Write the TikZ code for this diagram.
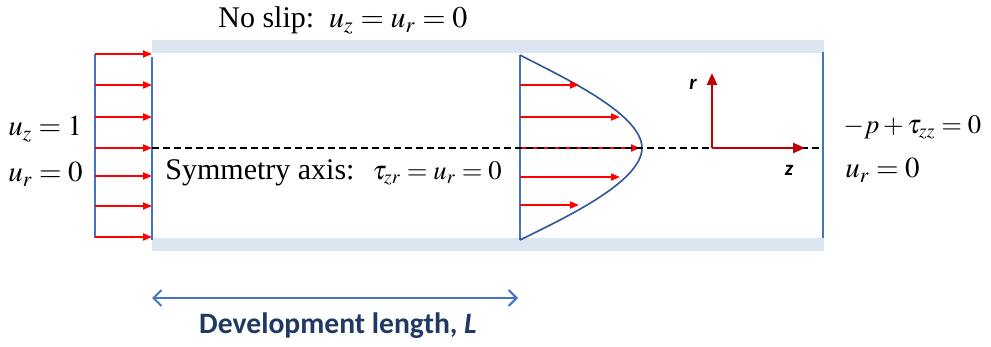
\documentclass[tikz,border=0pt]{standalone}
\usepackage{mathptmx}
\usepackage[no-math]{fontspec}
\setmainfont{Liberation Serif}
\newfontfamily\calibri{Carlito}
\usepackage{tikz}
\usetikzlibrary{arrows.meta,calc}
\definecolor{wallfill}{HTML}{DCE6F2}
\definecolor{edgeblue}{HTML}{4472C4}
\definecolor{profblue}{HTML}{2F5597}
\definecolor{velred}{HTML}{FF0000}
\definecolor{axisred}{HTML}{C00000}
\definecolor{navy}{HTML}{1F3864}
\tikzset{
  % --- pipe walls and section lines ---
  wall/.style={fill=wallfill, draw=none},
  section/.style={draw=edgeblue, line width=0.8pt},
  profile/.style={draw=profblue, line width=0.8pt},
  % --- velocity vectors ---
  vel/.style={draw=velred, line width=1pt, -{Triangle[length=4.5pt,width=3.5pt]}},
  % --- symmetry axis and r-z frame ---
  symline/.style={draw=black, line width=0.7pt, dash pattern=on 3.5pt off 2pt},
  frame/.style={draw=axisred, line width=1.3pt, -{Triangle[length=6pt,width=5pt]}},
  framelabel/.style={font=\calibri\fontsize{10.5}{12}\selectfont\bfseries\itshape},
  % --- labels ---
  bclabel/.style={font=\fontsize{15}{17}\selectfont, inner sep=0pt, anchor=base west},
  sidelabel/.style={font=\fontsize{14.5}{16}\selectfont, inner sep=0pt, anchor=base west},
  dimline/.style={draw=edgeblue, line width=1pt,
                  {Straight Barb[length=4pt,width=8pt]}-{Straight Barb[length=4pt,width=8pt]}},
  dimlabel/.style={font=\calibri\fontsize{14.8}{17}\selectfont\bfseries, text=navy,
                   inner sep=0pt, anchor=base},
}
\newcommand{\smallmath}{\fontsize{13.3}{15}\selectfont}

\begin{document}
\begin{tikzpicture}[x=0.5pt,y=-0.5pt]
  \useasboundingbox (0,0) rectangle (991,347);
  % walls
  \fill[wall] (152,40) rectangle (824,53);
  \fill[wall] (152,238) rectangle (824,251);
  % inlet: uniform flow
  \draw[section] (95,54) -- (95,238);
  \draw[section] (152,57) -- (152,240);
  \foreach \y in {54,85,117,148,176,206,237}
    \draw[vel] (95,\y) -- (152,\y);
  % outlet
  \draw[section] (823,52) -- (823,238);
  % fully developed profile
  \draw[section] (520,55) -- (520,240);
  \draw[profile] (520,55) .. controls (558,75) and (642,113) .. (642,148)
                          .. controls (642,183) and (558,221) .. (520,240);
  \foreach \y/\x in {85/579,117/620,148/640,177/620,205/579}
    \draw[vel] (520,\y) -- (\x,\y);
  % symmetry axis
  \draw[symline] (152,148) -- (823,148);
  % r-z frame
  \coordinate (o) at (712,148);
  \coordinate (rtip) at (712,73);
  \coordinate (ztip) at (805,148);
  \draw[frame] (o) -- (rtip);
  \draw[frame] (o) -- (ztip);
  \node[framelabel] (rlab) at (693,84) {r};
  \node[framelabel] (zlab) at (789,170) {z};
  % boundary conditions
  \node[bclabel] (noslip) at (218,28) {No slip:\ \ $u_z=u_r=0$};
  \node[bclabel] (symax) at (165,180) {Symmetry axis:\hspace{9pt}{\smallmath$\tau_{zr}=u_r=0$}};
  \node[sidelabel] (inuz) at (8,136) {$u_z=1$};
  \node[sidelabel] (inur) at (8,182) {$u_r=0$};
  \node[sidelabel] (outp) at (843,134) {\smallmath$-p+\tau_{zz}=0$};
  \node[sidelabel] (outur) at (845,178) {$u_r=0$};
  % development length
  \coordinate (la) at (152,298);
  \coordinate (lb) at (518,298);
  \draw[dimline] (la) -- (lb);
  \node[dimlabel] (dev) at (338,334) {Development length, \textit{L}};
\end{tikzpicture}
\end{document}
